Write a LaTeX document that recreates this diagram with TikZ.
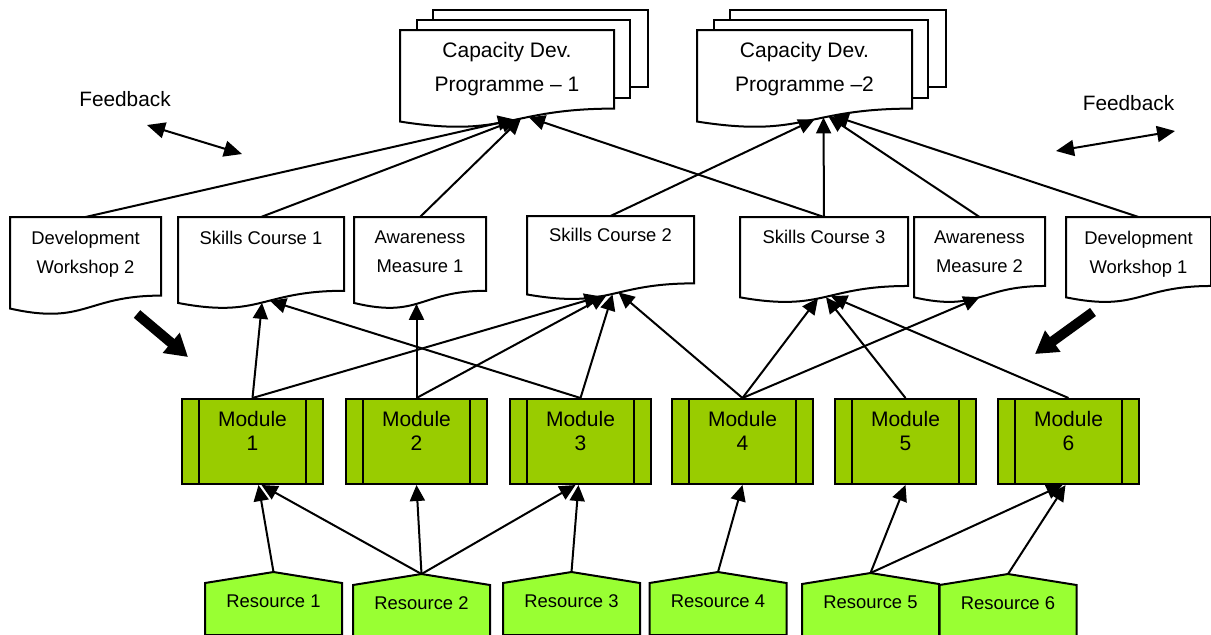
\documentclass[tikz,border=0pt]{standalone}
\usepackage{fontspec}
\setmainfont{Liberation Sans}
\usetikzlibrary{positioning,calc,arrows.meta}

\definecolor{modgreen}{RGB}{153,204,0}
\definecolor{resgreen}{RGB}{153,255,51}

\newcommand{\docfont}{\fontsize{9.2}{14.5}\selectfont}
\newcommand{\modfont}{\fontsize{10.5}{12}\selectfont}
\newcommand{\progfont}{\fontsize{10.5}{17}\selectfont}

\newcommand{\docshape}[1]{%
  \draw[docline] (#1.north west) -- (#1.north east)
    -- ($(#1.north east)!0.802!(#1.south east)$)
    .. controls ($(#1.north)!0.802!(#1.south)$) and ($(#1.north)!1.107!(#1.south)$)
    .. ($(#1.north west)!0.934!(#1.south west)$) -- cycle;
  \coordinate (#1-b) at ($(#1.north)!0.933!(#1.south)$);}

\newcommand{\resshape}[1]{%
  \draw[resline] (#1.south west) -- ($(#1.north west)+(0,11)$) -- (#1.north)
    -- ($(#1.north east)+(0,11)$) -- (#1.south east) -- cycle;}

\begin{document}
\begin{tikzpicture}[x=0.5pt,y=-0.5pt,line width=1pt,
  doc/.style={inner sep=0pt},
  docline/.style={draw=black,fill=white},
  doctxt/.style={inner sep=0pt,align=center,font=\docfont},
  progtxt/.style={inner sep=0pt,align=center,font=\progfont},
  module/.style={draw=black,fill=modgreen,minimum width=70.5pt,minimum height=42.5pt,inner sep=0pt},
  modtxt/.style={inner sep=0pt,align=center,font=\modfont},
  res/.style={inner sep=0pt,minimum width=67.5pt,minimum height=30.5pt},
  resline/.style={draw=black,fill=resgreen},
  restxt/.style={inner sep=0pt,font=\docfont},
  fbtxt/.style={inner sep=0pt,font=\fontsize{10.4}{12}\selectfont},
  arr/.style={-{Triangle[length=8pt,width=7.5pt]}},
  dbl/.style={{Triangle[length=9pt,width=8pt]}-{Triangle[length=9pt,width=8pt]}},
  fat/.style={line width=5pt,-{Triangle[length=11pt,width=12.5pt]}}]
\useasboundingbox (0,0) rectangle (1211,634);

% programmes
\node[doc,minimum width=106pt,minimum height=48pt] (cdp1) at (507,79) {};
\node[doc,minimum width=106.5pt,minimum height=48pt] (cdp2) at (804.5,79) {};
\foreach \p in {cdp1,cdp2} {
  \draw[docline] ($(\p.north west)+(33,-20)$) rectangle ($(\p.north east)+(34,57)$);
  \draw[docline] ($(\p.north west)+(17,-10)$) rectangle ($(\p.north east)+(16,68)$);
  \docshape{\p}
}
\node[progtxt,below=5.5pt of cdp1.north] (cdp1-t) {Capacity Dev.\\Programme – 1};
\node[progtxt,below=5.5pt of cdp2.north] (cdp2-t) {Capacity Dev.\\Programme –2};

\node[fbtxt] (fb1) at (125,99) {Feedback};
\node[fbtxt] (fb2) at (1128.5,103) {Feedback};
\coordinate (fb1-a) at (147,125);
\coordinate (fb1-b) at (242,154);
\coordinate (fb2-a) at (1056,151);
\coordinate (fb2-b) at (1175,131);
\draw[dbl] (fb1-a) -- (fb1-b);
\draw[dbl] (fb2-a) -- (fb2-b);

% courses
\node[doc,minimum width=74.5pt,minimum height=48pt] (dw2) at (85.5,266) {};
\node[doc,minimum width=82pt,minimum height=45pt] (sc1) at (261,263) {};
\node[doc,minimum width=65pt,minimum height=45pt] (am1) at (420,263) {};
\node[doc,minimum width=82.5pt,minimum height=41pt] (sc2) at (610.5,258) {};
\node[doc,minimum width=83pt,minimum height=42pt] (sc3) at (824,260) {};
\node[doc,minimum width=64.5pt,minimum height=42pt] (am2) at (979.5,260) {};
\node[doc,minimum width=71.5pt,minimum height=42pt] (dw1) at (1138.5,260) {};
\foreach \d in {dw2,sc1,am1,sc2,sc3,am2,dw1} {\docshape{\d}}
\node[doctxt,below=6.6pt of dw2.north] (dw2-t) {Development\\Workshop 2};
\node[doctxt,below=6.6pt of sc1.north] (sc1-t) {Skills Course 1};
\node[doctxt,below=6.6pt of am1.north] (am1-t) {Awareness\\Measure 1};
\node[doctxt,below=5.6pt of sc2.north] (sc2-t) {Skills Course 2};
\node[doctxt,below=6.3pt of sc3.north] (sc3-t) {Skills Course 3};
\node[doctxt,below=6.6pt of am2.north] (am2-t) {Awareness\\Measure 2};
\node[doctxt,below=6.6pt of dw1.north] (dw1-t) {Development\\Workshop 1};

% modules
\foreach \i/\x in {1/252.5,2/416.5,3/580.5,4/742.5,5/905.5,6/1068.5} {
  \node[module] (m\i) at (\x,441.5) {};
  \draw ([xshift=9pt]m\i.north west) -- ([xshift=9pt]m\i.south west);
  \draw ([xshift=-9pt]m\i.north east) -- ([xshift=-9pt]m\i.south east);
  \node[modtxt,below=6pt of m\i.north] (m\i-t) {Module\\\i};
}

% resources
\foreach \i/\x/\y in {1/273.5/603.5,2/421.5/605.5,3/571.5/603.5,4/718/603.5,5/870.5/604.5,6/1008/605.5} {
  \node[res] (r\i) at (\x,\y) {};
  \resshape{r\i}
  \node[restxt] (r\i-t) at ($(r\i)+(0,-2.5)$) {Resource \i};
}

\draw[arr] (dw2.north) -- ($(cdp1-b)+(7,-2)$);
\draw[arr] (sc1.north) -- ($(cdp1-b)+(10,-2)$);
\draw[arr] (am1.north) -- ($(cdp1-b)+(14,-3)$);
\draw[arr] (sc3.north) -- ($(cdp1-b)+(22,-4)$);
\draw[arr] (sc2.north) -- ($(cdp2-b)+(10,-2)$);
\draw[arr] (sc3.north) -- ($(cdp2-b)+(19,-4)$);
\draw[arr] (am2.north) -- ($(cdp2-b)+(24,-5)$);
\draw[arr] (dw1.north) -- ($(cdp2-b)+(28,-6)$);

\draw[arr] (m1.north) -- ($(sc1-b)+(1,0)$);
\draw[arr] (m3.north) -- ($(sc1-b)+(9,-2)$);
\draw[arr] (m2.north) -- ($(am1-b)+(-3.5,1)$);
\draw[arr] (m1.north) -- ($(sc2-b)+(-10,2)$);
\draw[arr] (m2.north) -- ($(sc2-b)+(-4,1)$);
\draw[arr] (m3.north) -- ($(sc2-b)+(2,0)$);
\draw[arr] (m4.north) -- ($(sc2-b)+(8,-2)$);
\draw[arr] (m4.north) -- ($(sc3-b)+(-6,1)$);
\draw[arr] (m5.north) -- ($(sc3-b)+(2,0)$);
\draw[arr] (m6.north) -- ($(sc3-b)+(7,-1)$);
\draw[arr] (m4.north) -- (am2-b);

\draw[arr] (r1.north) -- ($(m1.south)+(6,0)$);
\draw[arr] (r2.north) -- ($(m1.south)+(9,0)$);
\draw[arr] (r2.north) -- (m2.south);
\draw[arr] (r2.north) -- ($(m3.south)+(-5,0)$);
\draw[arr] (r3.north) -- ($(m3.south)+(-2,0)$);
\draw[arr] (r4.north) -- (m4.south);
\draw[arr] (r5.north) -- (m5.south);
\draw[arr] (r5.north) -- ($(m6.south)+(-6,0)$);
\draw[arr] (r6.north) -- ($(m6.south)+(-3,0)$);

\coordinate (fat1-a) at (137,314);
\coordinate (fat1-b) at (188,357);
\coordinate (fat2-a) at (1093,312);
\coordinate (fat2-b) at (1035,354);
\draw[fat] (fat1-a) -- (fat1-b);
\draw[fat] (fat2-a) -- (fat2-b);
\end{tikzpicture}
\end{document}
